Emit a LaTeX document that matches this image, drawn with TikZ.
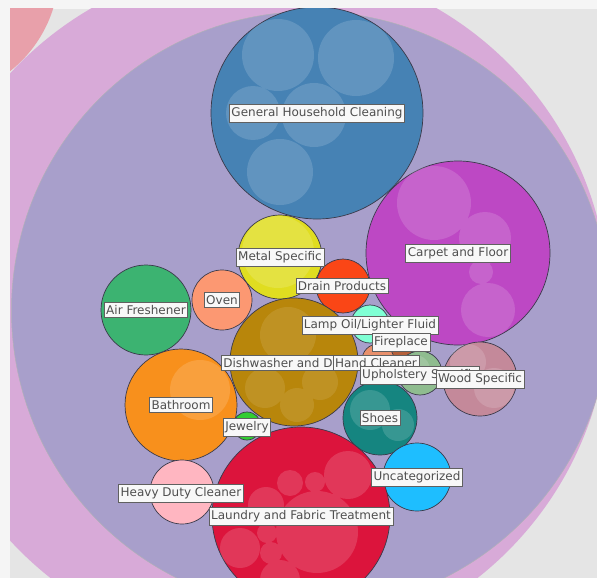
\documentclass[tikz,border=0pt]{standalone}
\usepackage{fontspec}
\setmainfont{DejaVu Sans}

\definecolor{pagebg}{HTML}{F5F5F5}
\definecolor{plotbg}{HTML}{E5E5E5}
\definecolor{outerred}{HTML}{E8A0AA}
\definecolor{outerpink}{HTML}{D8AAD8}
\definecolor{groupblue}{HTML}{A89FCB}
\definecolor{catline}{HTML}{3A3A4A}
\definecolor{lblline}{HTML}{606060}
\definecolor{lblfill}{HTML}{F8F8F8}
\definecolor{lbltext}{HTML}{4F4F4F}
% category colours
\definecolor{ghc}{HTML}{4682B4}
\definecolor{carpet}{HTML}{BD48C4}
\definecolor{metal}{HTML}{E0DD20}
\definecolor{drain}{HTML}{FA4616}
\definecolor{oven}{HTML}{FC9872}
\definecolor{airfr}{HTML}{3CB371}
\definecolor{lamp}{HTML}{7FFFD4}
\definecolor{fire}{HTML}{B5603A}
\definecolor{hand}{HTML}{E8906C}
\definecolor{uphol}{HTML}{8FBC8F}
\definecolor{wood}{HTML}{C4899A}
\definecolor{dish}{HTML}{B8860B}
\definecolor{bath}{HTML}{F8901C}
\definecolor{jewel}{HTML}{32CD32}
\definecolor{shoes}{HTML}{158580}
\definecolor{uncat}{HTML}{1EBEFF}
\definecolor{laundry}{HTML}{DC143C}
\definecolor{heavy}{HTML}{FFB6C1}

\tikzset{
  cat/.style={circle, draw=catline, line width=0.7pt, inner sep=0pt, outer sep=0pt, minimum size=#1},
  sub/.style={fill=white, fill opacity=0.15},
  lbl/.style={draw=lblline, fill=lblfill, text=lbltext, line width=0.6pt, inner xsep=2pt, inner ysep=3pt,
              font=\fontsize{12}{13}\selectfont},
}

\begin{document}
\begin{tikzpicture}[x=1pt, y=-1pt]

  % Background
  \fill[pagebg] (0,0) rectangle (597,578);
  \fill[plotbg] (10,9) rectangle (597,578);
  \useasboundingbox (0,0) rectangle (597,578);

  \begin{scope}
    \clip (10,9) rectangle (597,578);

    % Outer groups
    \fill[outerred]  (-70,-30) circle[radius=129pt];
    \fill[outerpink] (264,307) circle[radius=345pt];
    \filldraw[fill=groupblue, draw=catline!40, line width=0.5pt] (310.5,310.5) circle[radius=299pt];

    % Category circles
    \node[cat=212pt, fill=ghc]     (ghc)     at (317,113) {};
    \node[cat=184pt, fill=carpet]  (carpet)  at (458,253) {};
    \node[cat=84pt,  fill=metal]   (metal)   at (280,257) {};
    \node[cat=54pt,  fill=drain]   (drain)   at (343,286) {};
    \node[cat=60pt,  fill=oven]    (oven)    at (222,300) {};
    \node[cat=90pt,  fill=airfr]   (airfr)   at (146,310) {};
    \node[cat=38pt,  fill=lamp]    (lamp)    at (370,324) {};
    \node[cat=24pt,  fill=fire]    (fire)    at (400,350) {};
    \node[cat=32pt,  fill=hand]    (hand)    at (378,360) {};
    \node[cat=44pt,  fill=uphol]   (uphol)   at (420,373) {};
    \node[cat=74pt,  fill=wood]    (wood)    at (480,379) {};
    \node[cat=128pt, fill=dish]    (dish)    at (294,362) {};
    \node[cat=112pt, fill=bath]    (bath)    at (181,405) {};
    \node[cat=28pt,  fill=jewel]   (jewel)   at (247,426) {};
    \node[cat=74pt,  fill=shoes]   (shoes)   at (380,418) {};
    \node[cat=68pt,  fill=uncat]   (uncat)   at (417,477) {};
    \node[cat=178pt, fill=laundry] (laundry) at (301,516) {};
    \node[cat=64pt,  fill=heavy]   (heavy)   at (182,492) {};

    % Inner circles
    \fill[sub] (278,55) circle[radius=36pt] (356,58) circle[radius=38pt]
               (253,113) circle[radius=27pt] (314,115) circle[radius=32pt]
               (280,172) circle[radius=33pt];
    \fill[sub] (434,203) circle[radius=37pt] (485,238) circle[radius=26pt]
               (488,310) circle[radius=27pt] (481,272) circle[radius=12pt];
    \fill[sub] (278,252) circle[radius=36pt];
    \fill[sub, fill opacity=0.1] (288,335) circle[radius=28pt] (265,388) circle[radius=20pt]
               (320,382) circle[radius=18pt] (297,405) circle[radius=17pt];
    \fill[sub] (200,390) circle[radius=30pt];
    \fill[sub] (370,410) circle[radius=20pt] (398,425) circle[radius=16pt];
    \fill[sub] (468,362) circle[radius=18pt] (494,388) circle[radius=20pt];
    \fill[sub] (415,370) circle[radius=15pt];
    \fill[sub] (317,532) circle[radius=41pt] (348,475) circle[radius=24pt]
               (290,483) circle[radius=13pt] (315,482) circle[radius=10pt]
               (266,505) circle[radius=18pt] (240,548) circle[radius=20pt]
               (267,533) circle[radius=10pt] (271,553) circle[radius=11pt]
               (280,580) circle[radius=20pt];

    % Labels
    \node[lbl] (ghc-l)     at (ghc)     {General Household Cleaning};
    \node[lbl] (carpet-l)  at (carpet)  {Carpet and Floor};
    \node[lbl] (metal-l)   at (metal)   {Metal Specific};
    \node[lbl] (drain-l)   at (342,286) {Drain Products};
    \node[lbl] (oven-l)    at (oven)    {Oven};
    \node[lbl] (airfr-l)   at (airfr)   {Air Freshener};
    \node[lbl] (lamp-l)    at (370,325) {Lamp Oil/Lighter Fluid};
    \node[lbl, anchor=west] (dish-l) at (221,363) {Dishwasher and D};
    \node[lbl] (fire-l)    at (401,342) {Fireplace};
    \node[lbl] (hand-l)    at (376,363) {Hand Cleaner};
    \node[lbl] (uphol-l)   at (420,375) {Upholstery Specific};
    \node[lbl] (wood-l)    at (wood)    {Wood Specific};
    \node[lbl] (bath-l)    at (bath)    {Bathroom};
    \node[lbl] (shoes-l)   at (shoes)   {Shoes};
    \node[lbl] (jewel-l)   at (247,427) {Jewelry};
    \node[lbl] (uncat-l)   at (uncat)   {Uncategorized};
    \node[lbl] (heavy-l)   at (181,493) {Heavy Duty Cleaner};
    \node[lbl] (laundry-l) at (laundry) {Laundry and Fabric Treatment};
  \end{scope}

\end{tikzpicture}
\end{document}
